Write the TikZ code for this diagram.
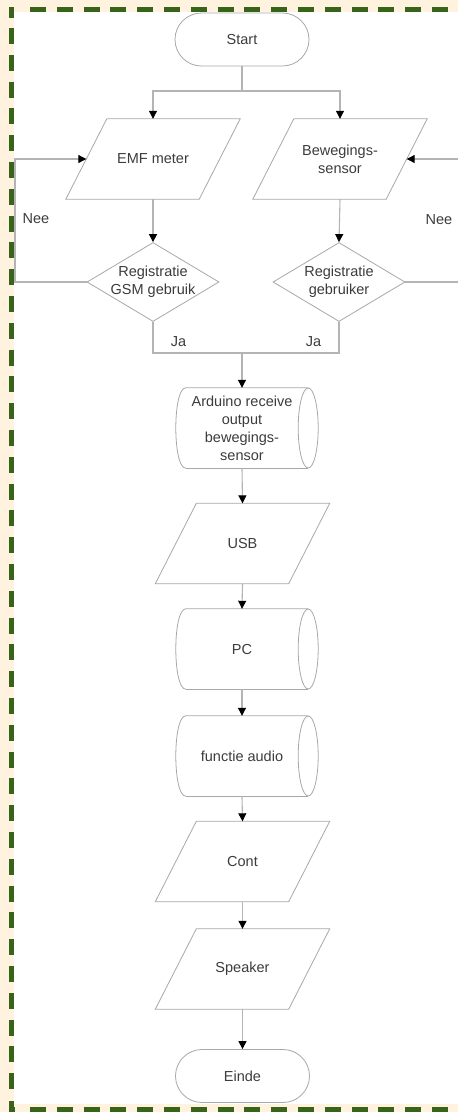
\documentclass[tikz,border=0pt]{standalone}
\usepackage{fontspec}
\setmainfont{Liberation Sans}
\usetikzlibrary{shapes.geometric,shapes.misc,arrows.meta}
\definecolor{cream}{HTML}{FFF3DF}
\definecolor{bgreen}{HTML}{376419}
\definecolor{edge}{HTML}{A8A8A8}
\definecolor{wire}{HTML}{B4B4B4}
\definecolor{ink}{HTML}{3C3C3C}
\newcommand{\paraoutline}[1]{%
  \draw[shpline] ([xshift=20.5pt]#1.north west) -- ([xshift=20.5pt]#1.north east)
    -- ([xshift=-20.5pt]#1.south east) -- ([xshift=-20.5pt]#1.south west) -- cycle;}
\newcommand{\storeoutline}[1]{%
  \draw[shpline] ([xshift=10pt]#1.south west) .. controls ([xshift=-3.33pt]#1.south west) and ([xshift=-3.33pt]#1.north west) .. ([xshift=10pt]#1.north west) -- (#1.north east);
  \draw[shpline] (#1.south east) -- ([xshift=10pt]#1.south west);
  \draw[shpline] (#1.east) ellipse [x radius=10pt, y radius=40pt];}
\begin{document}
\begin{tikzpicture}[x=1pt,y=-1pt,
  txt/.style={font=\fontsize{14.5}{18}\selectfont, text=ink, align=center, inner sep=0pt},
  shpline/.style={draw=edge, line width=0.8pt},
  shp/.style={shpline, inner sep=0pt},
  term/.style={shp, rounded rectangle, minimum width=134pt, minimum height=53pt},
  para/.style={rectangle, inner sep=0pt, minimum width=133pt, minimum height=80pt},
  dec/.style={shp, diamond, minimum width=132pt, minimum height=79pt},
  store/.style={rectangle, inner sep=0pt, minimum width=132pt, minimum height=80pt},
  wireline/.style={draw=wire, line width=1.1pt},
  arr/.style={wireline, -{Triangle[black,width=8pt,length=8pt]}},
  border/.style={draw=bgreen, line width=5pt},
  dashb/.style={border, dash pattern=on 16pt off 10.8pt}
]
\useasboundingbox (0,0) rectangle (458,1112);
\fill[cream] (0,0) rectangle (458,1112);
\fill[white] (14,12) rectangle (470,1104);
% border
\draw[dashb] (30,9.5) -- (470,9.5);
\draw[dashb] (30,1109) -- (470,1109);
\draw[dashb] (11,28) -- (11,1092);
\draw[border] (11,18) -- (11,9.5) -- (14,9.5);
\draw[border] (11,1101) -- (11,1109) -- (15,1109);

% nodes
\node[term, label={[txt]center:Start}] (start) at (242,39.5) {};
\node[para, label={[txt]center:EMF meter}] (emf) at (153,159) {};
\node[para, label={[txt]center:{Bewegings-\\sensor}}] (bew) at (340,159) {};
\node[dec, label={[txt]center:{Registratie\\GSM gebruik}}] (d1) at (153,282) {};
\node[dec, label={[txt]center:{Registratie\\gebruiker}}] (d2) at (339,282) {};
\node[store, label={[txt]center:{Arduino receive\\output\\bewegings-\\sensor}}] (ard) at (242,428) {};
\node[para, label={[txt]center:USB}] (usb) at (242.5,543.5) {};
\node[store, label={[txt]center:PC}] (pc) at (242,649) {};
\node[store, label={[txt]center:functie audio}] (fa) at (242,756) {};
\node[para, label={[txt]center:Cont}] (cont) at (242.5,861.5) {};
\node[para, label={[txt]center:Speaker}] (spk) at (242.5,969) {};
\node[term, label={[txt]center:Einde}] (einde) at (242.5,1076) {};
\paraoutline{emf}
\paraoutline{bew}
\paraoutline{usb}
\paraoutline{cont}
\paraoutline{spk}
\storeoutline{ard}
\storeoutline{pc}
\storeoutline{fa}

% labels
\node[txt] (nee1) at (36,219) {Nee};
\node[txt] (nee2) at (439,220) {Nee};
\node[txt] (ja1) at (178.5,342) {Ja};
\node[txt] (ja2) at (313.5,342) {Ja};

% connectors
\coordinate (j1) at (242,91);
\coordinate (j2) at (242,353);
\coordinate (lx) at (15,159);
\coordinate (rx) at (470,159);
\draw[wireline] (start.south) -- (j1);
\draw[arr] (j1) -| (emf.north);
\draw[arr] (j1) -| (bew.north);
\draw[arr] (emf.south) -- (d1.north);
\draw[arr] (bew.south) -- (d2.north);
\draw[arr] (d1.west) -| (lx) -- (emf.west);
\draw[arr] (d2.east) -| (rx) -- (bew.east);
\draw[wireline] (d1.south) |- (j2);
\draw[wireline] (d2.south) |- (j2);
\draw[arr] (j2) -- (ard.north);
\draw[arr] (ard.south) -- (usb.north);
\draw[arr] (usb.south) -- (pc.north);
\draw[arr] (pc.south) -- (fa.north);
\draw[arr] (fa.south) -- (cont.north);
\draw[arr] (cont.south) -- (spk.north);
\draw[arr] (spk.south) -- (einde.north);
\end{tikzpicture}
\end{document}
